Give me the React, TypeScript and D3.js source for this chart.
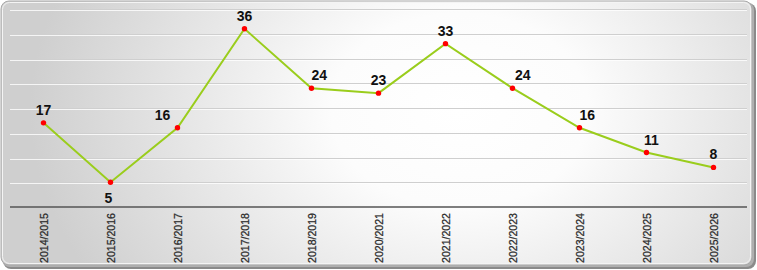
import React from "react";
import * as d3 from "d3";

const categories = ["2014/2015","2015/2016","2016/2017","2017/2018","2018/2019","2020/2021","2021/2022","2022/2023","2023/2024","2024/2025","2025/2026"];
const values = [17, 5, 16, 36, 24, 23, 33, 24, 16, 11, 8];
const yTicks = [0, 5, 10, 15, 20, 25, 30, 35, 40];

const W = 757, H = 270;
const plot = { left: 10, right: 747, top: 9, bottom: 207 };

export default function App() {
  const x = d3.scaleBand<string>().domain(categories).range([plot.left, plot.right]);
  const cx = (c: string) => (x(c) as number) + x.bandwidth() / 2;
  const y = d3.scaleLinear().domain([0, 40]).range([plot.bottom, plot.top]);
  const line = d3.line<number>().x((_, i) => cx(categories[i])).y((v) => y(v));

  const labelPos = (i: number) => {
    const v = values[i];
    const l = i > 0 ? values[i - 1] : null;
    const r = i < values.length - 1 ? values[i + 1] : null;
    if (l !== null && r !== null && v < l && v < r && i === 1) return { dx: -2, dy: 21 };
    let dx = 0;
    if (l !== null && r !== null && ((l < v && v < r) || (l > v && v > r))) {
      dx = Math.max(-15, Math.min(15, (l - r) * 0.6));
    }
    return { dx, dy: -8 };
  };

  return (
    <svg width={W} height={H} style={{ position: "absolute", left: 0, top: 0 }}>
      <defs>
        <radialGradient id="bg" gradientUnits="userSpaceOnUse" cx={460} cy={110} r={430}
          gradientTransform="translate(460 110) scale(1 0.75) translate(-460 -110)">
          <stop offset="0" stopColor="#ffffff" />
          <stop offset="0.3" stopColor="#fcfcfc" />
          <stop offset="1" stopColor="#cfcfcf" />
        </radialGradient>
      </defs>
      <rect x={3} y={3} width={753} height={266} rx={8} fill="#8a8a8a" />
      <rect x={2} y={2} width={752} height={265} rx={8} fill="#b0b0b0" />
      <rect x={1} y={1} width={751} height={264} rx={8} fill="url(#bg)" stroke="#a9a9a9" strokeWidth={1} />
      <rect x={2.5} y={2.5} width={748} height={261} rx={7} fill="none" stroke="#f4f4f4" strokeWidth={1} />
      {yTicks.filter((t) => t > 0).map((t) => (
        <g key={t}>
          <line x1={plot.left} x2={plot.right} y1={Math.round(y(t)) + 0.5} y2={Math.round(y(t)) + 0.5} stroke="#cfcfcf" strokeWidth={1.2} />
          <line x1={plot.left} x2={plot.right} y1={Math.round(y(t)) + 1.5} y2={Math.round(y(t)) + 1.5} stroke="#ffffff" strokeWidth={1} opacity={0.8} />
        </g>
      ))}
      <line x1={plot.left} x2={plot.right} y1={y(0)} y2={y(0)} stroke="#555" strokeWidth={1.6} />
      <path d={line(values) || ""} fill="none" stroke="#9acd1c" strokeWidth={2} />
      {values.map((v, i) => (
        <circle key={i} cx={cx(categories[i])} cy={y(v)} r={2.7} fill="#ff0000" />
      ))}
      {values.map((v, i) => {
        const p = labelPos(i);
        return (
          <text key={i} x={cx(categories[i]) + p.dx} y={y(v) + p.dy} textAnchor="middle"
            fontFamily="Liberation Sans, Arial, sans-serif" fontWeight="bold" fontSize={14} fill="#111">
            {v}
          </text>
        );
      })}
      {categories.map((c) => (
        <text key={c} transform={`translate(${cx(c) + 4},${213}) rotate(-90)`} textAnchor="end"
          fontFamily="Liberation Sans, Arial, sans-serif" fontSize={10.5} fill="#2a2a2a"
          textLength={50} lengthAdjust="spacingAndGlyphs" stroke="#2a2a2a" strokeWidth={0.25}>
          {c}
        </text>
      ))}
    </svg>
  );
}
